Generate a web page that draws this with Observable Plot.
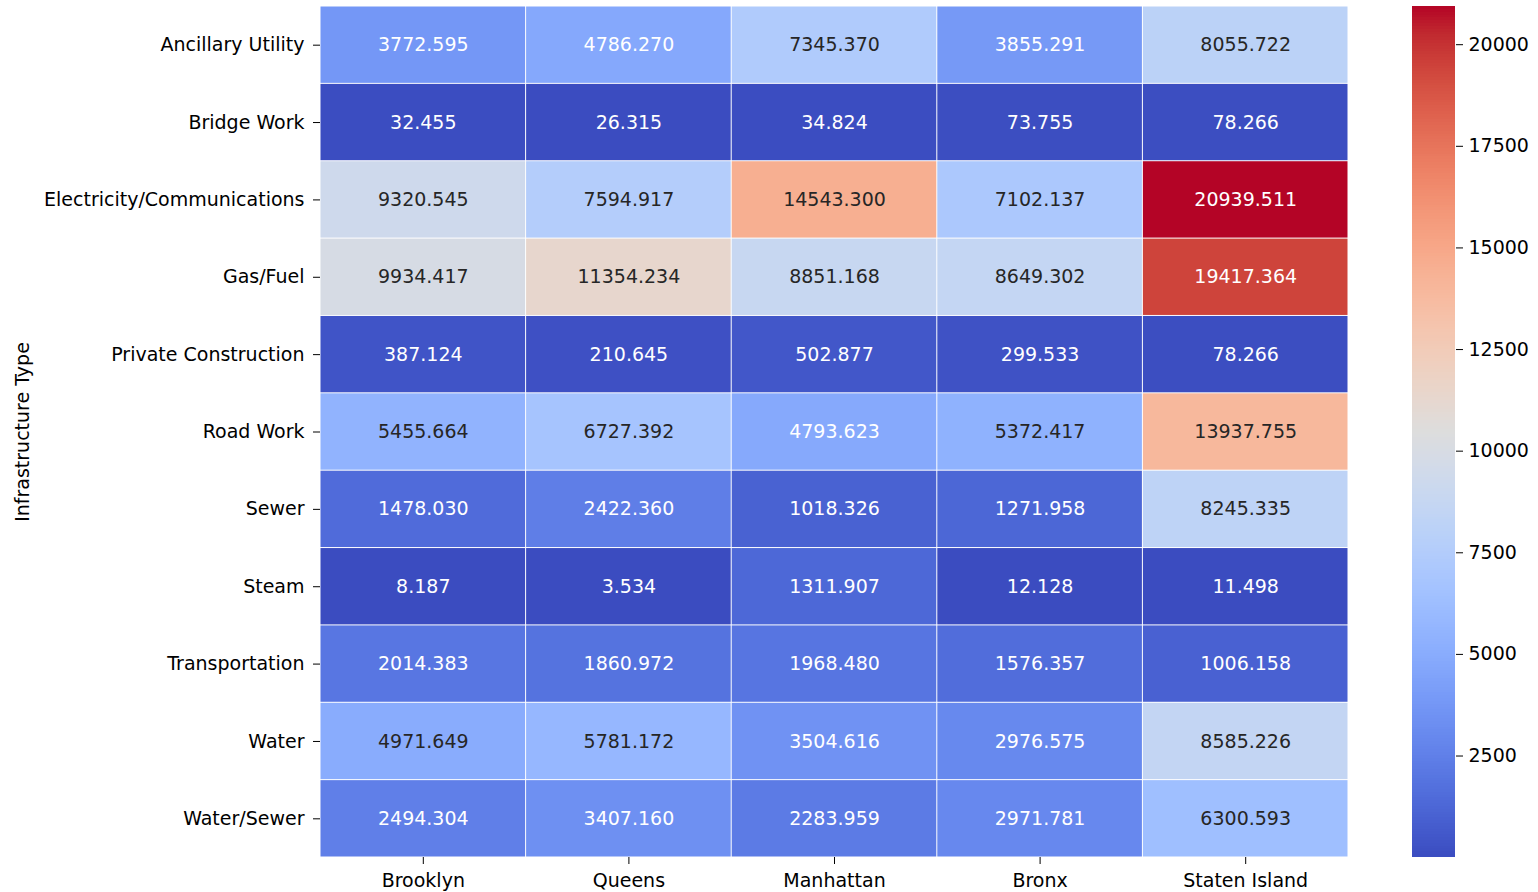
<!DOCTYPE html>
<html>
<head>
<meta charset="utf-8">
<script src="https://cdn.jsdelivr.net/npm/d3@7"></script>
<script src="https://cdn.jsdelivr.net/npm/@observablehq/plot@0.6"></script>
<style>
  html, body { margin: 0; padding: 0; background: white; }
  #wrap { position: relative; width: 1538px; height: 892px; }
  #wrap > svg { position: absolute; left: 0; top: 0; }
</style>
</head>
<body>
<div id="wrap"></div>
<script>
const boroughs = ["Brooklyn", "Queens", "Manhattan", "Bronx", "Staten Island"];
const types = ["Ancillary Utility", "Bridge Work", "Electricity/Communications", "Gas/Fuel",
  "Private Construction", "Road Work", "Sewer", "Steam", "Transportation", "Water", "Water/Sewer"];

const brooklyn     = [3772.595, 32.455, 9320.545, 9934.417, 387.124, 5455.664, 1478.030, 8.187, 2014.383, 4971.649, 2494.304];
const queens       = [4786.270, 26.315, 7594.917, 11354.234, 210.645, 6727.392, 2422.360, 3.534, 1860.972, 5781.172, 3407.160];
const manhattan    = [7345.370, 34.824, 14543.300, 8851.168, 502.877, 4793.623, 1018.326, 1311.907, 1968.480, 3504.616, 2283.959];
const bronx        = [3855.291, 73.755, 7102.137, 8649.302, 299.533, 5372.417, 1271.958, 12.128, 1576.357, 2976.575, 2971.781];
const statenIsland = [8055.722, 78.266, 20939.511, 19417.364, 78.266, 13937.755, 8245.335, 11.498, 1006.158, 8585.226, 6300.593];

const colorbarTicks = [2500, 5000, 7500, 10000, 12500, 15000, 17500, 20000];

// coolwarm colormap anchors (Moreland)
const coolwarm = [
  [59,76,192],[68,90,204],[77,104,215],[87,117,225],[98,130,234],[108,142,241],[119,154,247],[130,165,251],
  [141,176,254],[152,185,255],[163,194,255],[174,201,253],[184,208,249],[194,213,244],[204,217,238],[213,219,230],
  [221,221,221],[229,216,209],[236,211,197],[241,204,185],[245,196,173],[247,187,160],[247,177,148],[247,166,135],
  [244,154,123],[241,141,111],[236,127,99],[229,112,88],[222,96,77],[213,80,66],[203,62,56],[192,40,47],[180,4,38]
].map(([r,g,b]) => `rgb(${r},${g},${b})`);
const interp = d3.piecewise(d3.interpolateRgb, coolwarm);

const series = [brooklyn, queens, manhattan, bronx, statenIsland];
const table = [];
boroughs.forEach((b, i) => types.forEach((t, j) => table.push({borough: b, type: t, value: series[i][j]})));

const vmin = d3.min(table, d => d.value);
const vmax = d3.max(table, d => d.value);
const colorOf = v => interp((v - vmin) / (vmax - vmin));

function textColor(v) {
  const c = d3.rgb(colorOf(v));
  const lin = x => { x /= 255; return x <= 0.03928 ? x / 12.92 : Math.pow((x + 0.055) / 1.055, 2.4); };
  const L = 0.2126 * lin(c.r) + 0.7152 * lin(c.g) + 0.0722 * lin(c.b);
  return L > 0.408 ? "#262626" : "#ffffff";
}

const fmt = d3.format(".3f");
const FS = 19;
const style = {fontFamily: "DejaVu Sans", fontSize: FS + "px", background: "transparent", color: "#000", overflow: "visible"};

const heat = Plot.plot({
  width: 1538, height: 892,
  marginLeft: 320, marginRight: 190, marginTop: 6, marginBottom: 35,
  style,
  x: {domain: boroughs, padding: 0, round: false, label: null},
  y: {domain: types, padding: 0, round: false, label: null},
  color: {type: "linear", domain: [vmin, vmax], interpolate: t => interp(t)},
  marks: [
    Plot.cell(table, {x: "borough", y: "type", fill: "value", inset: 0.5}),
    Plot.text(table, {x: "borough", y: "type", text: d => fmt(d.value), fill: d => textColor(d.value), fontSize: FS}),
    Plot.axisX({anchor: "bottom", tickSize: 7, tickPadding: 9, label: null, fontSize: FS}),
    Plot.axisY({anchor: "left", tickSize: 7, tickPadding: 9, label: null, fontSize: FS}),
    Plot.text(["Infrastructure Type"], {frameAnchor: "left", textAnchor: "middle", dx: -298, rotate: -90, fontSize: FS, fill: "#000"})
  ]
});

const N = 300;
const stripes = d3.range(N).map(i => ({
  y1: vmin + (vmax - vmin) * i / N,
  y2: vmin + (vmax - vmin) * (i + 1) / N
}));

const bar = Plot.plot({
  width: 1538, height: 892,
  marginLeft: 1412, marginRight: 83, marginTop: 6, marginBottom: 35,
  style,
  x: {domain: [0, 1], axis: null},
  y: {domain: [vmin, vmax], label: null},
  marks: [
    Plot.rect(stripes, {x1: 0, x2: 1, y1: "y1", y2: "y2", fill: d => interp(((d.y1 + d.y2) / 2 - vmin) / (vmax - vmin)), shapeRendering: "crispEdges"}),
    Plot.axisY({anchor: "right", ticks: colorbarTicks, tickFormat: d => String(d), tickSize: 7, tickPadding: 6, label: null, fontSize: FS})
  ]
});

const wrap = document.getElementById("wrap");
wrap.appendChild(heat);
wrap.appendChild(bar);
</script>
</body>
</html>
